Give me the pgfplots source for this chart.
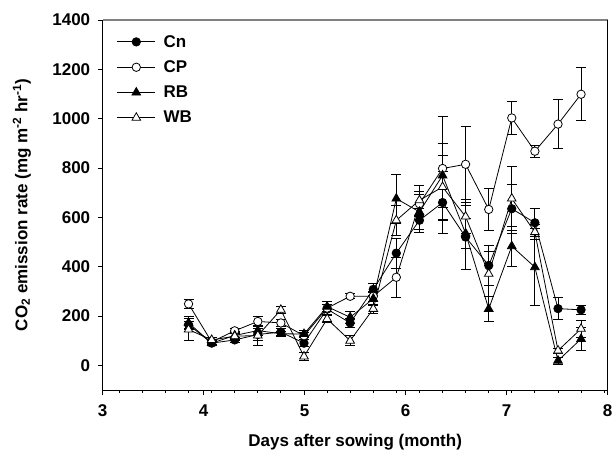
\documentclass[border=0pt]{standalone}
\usepackage{pgfplots}
\usepackage{pgfplotstable}
\pgfplotsset{compat=1.18}
\usepackage{fontspec}
\setmainfont{Liberation Sans}

\pgfplotstableread{
x y e
3.850 165 15
4.079 90 10
4.307 103 10
4.536 125 25
4.764 135 15
4.993 90 15
5.222 228 20
5.450 172 20
5.679 308 25
5.907 455 60
6.136 588 50
6.365 660 126
6.593 520 130
6.822 405 80
7.050 635 100
7.279 578 57
7.508 230 45
7.736 225 20
}\cn
\pgfplotstableread{
x y e
3.850 249 20
4.079 95 10
4.307 140 10
4.536 178 20
4.764 172 15
4.993 120 15
5.222 232 15
5.450 280 10
5.679 280 20
5.907 357 80
6.136 655 50
6.365 798 210
6.593 815 155
6.822 632 85
7.050 1003 67
7.279 868 25
7.508 978 100
7.736 1099 107
}\cp
\pgfplotstableread{
x y e
3.850 172 25
4.079 90 10
4.307 121 15
4.536 141 20
4.764 128 10
4.993 127 15
5.222 238 20
5.450 195 25
5.679 270 25
5.907 676 100
6.136 622 70
6.365 770 130
6.593 535 60
6.822 229 50
7.050 483 80
7.279 398 156
7.508 19 15
7.736 107 47
}\rb
\pgfplotstableread{
x y e
3.850 145 45
4.079 103 10
4.307 118 15
4.536 121 40
4.764 225 15
4.993 36 15
5.222 188 15
5.450 100 20
5.679 229 20
5.907 588 60
6.136 669 60
6.365 723 130
6.593 603 70
6.822 371 90
7.050 676 130
7.279 540 30
7.508 60 10
7.736 148 33
}\wb

\begin{document}
\begin{tikzpicture}
\begin{axis}[
  name=ax,
  scale only axis, width=505pt, height=370pt,
  xmin=3, xmax=8, ymin=-100, ymax=1400,
  axis x line*=bottom, axis y line*=left,
  axis line style={line width=1pt, -},
  xtick={3,4,5,6,7,8}, ytick={0,200,400,600,800,1000,1200,1400},
  minor xtick={3.164,3.393,3.621,3.850,4.079,4.307,4.536,4.764,4.993,5.222,5.450,5.679,5.907,6.136,6.365,6.593,6.822,7.050,7.279,7.508,7.736,7.965},
  tick align=outside,
  tick style={black, line width=0.9pt},
  major tick length=5pt, minor tick length=3pt,
  /pgf/number format/assume math mode=true,
  /pgf/number format/1000 sep={},
  ticklabel style={font=\fontsize{17}{19}\selectfont\bfseries},
  xticklabel style={yshift=-6pt},
  yticklabel style={xshift=-4pt},
  xlabel={Days after sowing (month)},
  ylabel={CO\textsubscript{2} emission rate (mg m\textsuperscript{-2} hr\textsuperscript{-1})},
  label style={font=\fontsize{17}{20}\selectfont\bfseries},
  x label style={at={(axis description cs:0.5,-0.14)}, anchor=center},
  y label style={at={(axis description cs:-0.16,0.5)}, anchor=center},
  clip=false,
  legend cell align=left,
  legend style={draw=none, fill=none, at={(axis description cs:0,1)}, anchor=north west,
    xshift=11pt, yshift=-11pt, font=\fontsize{17}{19}\selectfont\bfseries,
    row sep=8pt},
  legend image code/.code={\draw[#1, mark repeat=2, mark phase=2] plot coordinates {(0pt,0pt) (19pt,0pt) (38pt,0pt)};},
  every axis plot/.append style={black, line width=0.8pt},
  error bars/error bar style={line width=0.8pt, black},
  error bars/error mark options={rotate=90, mark size=5pt, line width=0.8pt, black},
]
\addplot[mark=*, mark size=4.2pt, mark options={fill=black, solid},
  error bars/.cd, y dir=both, y explicit] table[x=x, y=y, y error=e]{\cn};
\addlegendentry{\hspace{6pt}Cn}
\addplot[mark=*, mark size=4.2pt, mark options={fill=white, solid},
  error bars/.cd, y dir=both, y explicit] table[x=x, y=y, y error=e]{\cp};
\addlegendentry{\hspace{6pt}CP}
\addplot[mark=triangle*, mark size=5pt, mark options={fill=black, solid},
  error bars/.cd, y dir=both, y explicit] table[x=x, y=y, y error=e]{\rb};
\addlegendentry{\hspace{6pt}RB}
\addplot[mark=triangle*, mark size=5pt, mark options={fill=white, solid},
  error bars/.cd, y dir=both, y explicit] table[x=x, y=y, y error=e]{\wb};
\addlegendentry{\hspace{6pt}WB}
\end{axis}
\draw[line width=1.5pt, color={rgb,255:red,128;green,128;blue,128}] (ax.north west) -- (ax.north east);
\draw[line width=0.9pt] (ax.north east) -- (ax.south east);
\pgfresetboundingbox
\path ([xshift=-102.7pt,yshift=-66pt]ax.south west) rectangle ([xshift=6.3pt,yshift=20pt]ax.north east);
\end{tikzpicture}
\end{document}
